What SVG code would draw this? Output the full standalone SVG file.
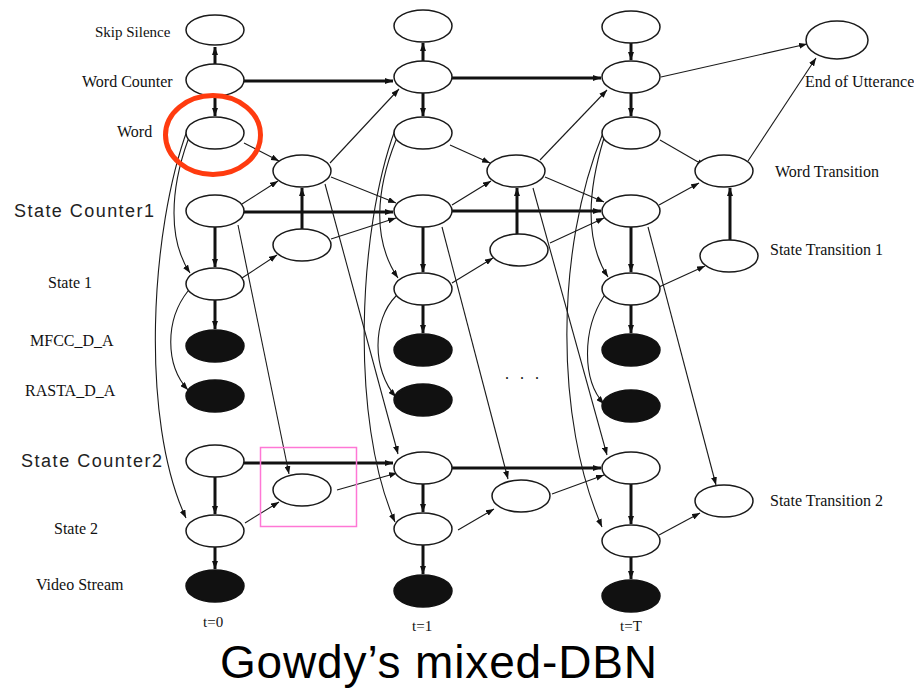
<svg xmlns="http://www.w3.org/2000/svg" width="914" height="688" viewBox="0 0 914 688">
  <style>
    .n { fill: #fff; stroke: #1a1a1a; stroke-width: 1.5; }
    .o { fill: #111; stroke: #111; stroke-width: 1.5; }
    .e { fill: none; stroke: #1a1a1a; stroke-width: 1.1; marker-end: url(#arr); }
    .t { fill: none; stroke: #111; stroke-width: 3; marker-end: url(#arr); }
    .lb { font-family: "Liberation Serif", "Times New Roman", serif; font-size: 16px; fill: #111; }
    .lc { font-family: "Liberation Sans", Arial, sans-serif; font-size: 18px; fill: #222; }
    .title { font-family: "Liberation Sans", Arial, sans-serif; font-size: 46px; fill: #000; }
  </style>
  <defs>
    <marker id="arr" markerUnits="userSpaceOnUse" viewBox="0 0 8 6" refX="8" refY="3" markerWidth="8" markerHeight="6" orient="auto">
      <path d="M0,0 L8,3 L0,6 z" fill="#111"/>
    </marker>
  </defs>
  <rect width="914" height="688" fill="#fff"/>

  <!-- connectors -->
  <g id="connectors">
    <!-- thick intra-slice arcs -->
    <line class="t" x1="215" y1="64" x2="215" y2="47"/>
    <line class="t" x1="423" y1="61" x2="423" y2="43"/>
    <line class="t" x1="631" y1="43" x2="631" y2="60"/>
    <line class="t" x1="215" y1="96" x2="215" y2="116"/>
    <line class="t" x1="423" y1="93" x2="423" y2="116"/>
    <line class="t" x1="631" y1="93" x2="631" y2="116"/>
    <line class="t" x1="215" y1="227" x2="215" y2="267"/>
    <line class="t" x1="215" y1="300" x2="215" y2="329"/>
    <line class="t" x1="215" y1="477" x2="215" y2="514"/>
    <line class="t" x1="215" y1="547" x2="215" y2="569"/>
    <line class="t" x1="423" y1="227" x2="423" y2="272"/>
    <line class="t" x1="423" y1="305" x2="423" y2="333"/>
    <line class="t" x1="423" y1="484" x2="423" y2="512"/>
    <line class="t" x1="423" y1="545" x2="423" y2="574"/>
    <line class="t" x1="631" y1="227" x2="631" y2="272"/>
    <line class="t" x1="631" y1="305" x2="631" y2="333"/>
    <line class="t" x1="631" y1="484" x2="631" y2="524"/>
    <line class="t" x1="631" y1="557" x2="631" y2="579"/>
    <line class="t" x1="302" y1="229" x2="302" y2="188"/>
    <line class="t" x1="517" y1="234" x2="517" y2="188"/>
    <line class="t" x1="730" y1="240" x2="730" y2="188"/>
    <!-- thick inter-slice arcs -->
    <line class="t" x1="244" y1="81" x2="393" y2="81"/>
    <line class="t" x1="452" y1="78" x2="601" y2="78"/>
    <line class="t" x1="244" y1="212" x2="393" y2="212"/>
    <line class="t" x1="452" y1="211" x2="601" y2="211"/>
    <line class="t" x1="244" y1="463" x2="393" y2="463"/>
    <line class="t" x1="452" y1="468" x2="601" y2="468"/>

    <!-- thin arcs, slice t=0 -->
    <line class="e" x1="244" y1="143" x2="279" y2="161"/>
    <line class="e" x1="242" y1="204" x2="278" y2="181"/>
    <line class="e" x1="242" y1="278" x2="277" y2="255"/>
    <line class="e" x1="330" y1="163" x2="399" y2="89"/>
    <line class="e" x1="331" y1="177" x2="396" y2="203"/>
    <line class="e" x1="331" y1="239" x2="396" y2="218"/>
    <line class="e" x1="238" y1="225" x2="289" y2="474"/>
    <line class="e" x1="325" y1="184" x2="398" y2="454"/>
    <line class="e" x1="337" y1="490" x2="397" y2="473"/>
    <line class="e" x1="245" y1="523" x2="279" y2="502"/>
    <path class="e" d="M188,140 C170,190 168,240 190,273"/>
    <path class="e" d="M188,128 C150,230 140,420 186,518"/>
    <path class="e" d="M188,291 C165,320 165,365 188,390"/>

    <!-- thin arcs, slice t=1 -->
    <line class="e" x1="450" y1="145" x2="490" y2="163"/>
    <line class="e" x1="452" y1="205" x2="491" y2="181"/>
    <line class="e" x1="452" y1="283" x2="493" y2="258"/>
    <line class="e" x1="540" y1="160" x2="607" y2="90"/>
    <line class="e" x1="545" y1="177" x2="604" y2="202"/>
    <line class="e" x1="550" y1="243" x2="604" y2="218"/>
    <line class="e" x1="442" y1="227" x2="508" y2="479"/>
    <line class="e" x1="533" y1="188" x2="607" y2="455"/>
    <line class="e" x1="552" y1="494" x2="604" y2="475"/>
    <line class="e" x1="458" y1="530" x2="494" y2="509"/>
    <path class="e" d="M396,140 C376,190 372,240 398,278"/>
    <path class="e" d="M395,130 C358,230 350,420 395,522"/>
    <path class="e" d="M396,296 C372,320 372,370 396,397"/>

    <!-- thin arcs, slice t=T -->
    <line class="e" x1="660" y1="140" x2="705" y2="166"/>
    <line class="e" x1="659" y1="205" x2="699" y2="183"/>
    <line class="e" x1="659" y1="287" x2="705" y2="266"/>
    <line class="e" x1="648" y1="227" x2="716" y2="485"/>
    <line class="e" x1="659" y1="535" x2="700" y2="513"/>
    <line class="e" x1="661" y1="77" x2="807" y2="44"/>
    <line class="e" x1="748" y1="161" x2="816" y2="58"/>
    <path class="e" d="M604,138 C588,190 584,240 608,277"/>
    <path class="e" d="M603,133 C555,250 555,420 602,527"/>
    <path class="e" d="M604,296 C582,330 582,380 604,404"/>
  </g>

  <!-- slice t=0 -->
  <g id="skip0"><ellipse class="n" cx="215" cy="30" rx="29" ry="15"/></g>
  <g id="wordcounter0"><ellipse class="n" cx="215" cy="80" rx="29" ry="16"/></g>
  <g id="word0"><ellipse class="n" cx="215" cy="133" rx="29" ry="16"/></g>
  <g id="statecounter1_0"><ellipse class="n" cx="215" cy="211" rx="29" ry="16"/></g>
  <g id="state1_0"><ellipse class="n" cx="215" cy="284" rx="29" ry="16"/></g>
  <g id="mfcc0"><ellipse class="o" cx="215" cy="346" rx="29" ry="16"/></g>
  <g id="rasta0"><ellipse class="o" cx="215" cy="396" rx="29" ry="16"/></g>
  <g id="statecounter2_0"><ellipse class="n" cx="215" cy="461" rx="29" ry="16"/></g>
  <g id="state2_0"><ellipse class="n" cx="215" cy="531" rx="29" ry="16"/></g>
  <g id="video0"><ellipse class="o" cx="215" cy="586" rx="29" ry="16"/></g>
  <g id="wordtrans0"><ellipse class="n" cx="302" cy="171" rx="29" ry="16"/></g>
  <g id="statetrans1_0"><ellipse class="n" cx="302" cy="245" rx="29" ry="16"/></g>
  <g id="statetrans2_0"><ellipse class="n" cx="302" cy="490" rx="29" ry="16"/></g>

  <!-- slice t=1 -->
  <g id="skip1"><ellipse class="n" cx="423" cy="26" rx="29" ry="16"/></g>
  <g id="wordcounter1"><ellipse class="n" cx="423" cy="77" rx="29" ry="16"/></g>
  <g id="word1"><ellipse class="n" cx="423" cy="133" rx="29" ry="16"/></g>
  <g id="statecounter1_1"><ellipse class="n" cx="423" cy="211" rx="29" ry="16"/></g>
  <g id="state1_1"><ellipse class="n" cx="423" cy="289" rx="29" ry="16"/></g>
  <g id="mfcc1"><ellipse class="o" cx="423" cy="350" rx="29" ry="16"/></g>
  <g id="rasta1"><ellipse class="o" cx="423" cy="400" rx="29" ry="16"/></g>
  <g id="statecounter2_1"><ellipse class="n" cx="423" cy="468" rx="29" ry="16"/></g>
  <g id="state2_1"><ellipse class="n" cx="423" cy="529" rx="29" ry="16"/></g>
  <g id="video1"><ellipse class="o" cx="423" cy="591" rx="29" ry="16"/></g>
  <g id="wordtrans1"><ellipse class="n" cx="516" cy="171" rx="29" ry="16"/></g>
  <g id="statetrans1_1"><ellipse class="n" cx="519" cy="250" rx="29" ry="16"/></g>
  <g id="statetrans2_1"><ellipse class="n" cx="521" cy="496" rx="29" ry="16"/></g>

  <!-- slice t=T -->
  <g id="skipT"><ellipse class="n" cx="631" cy="27" rx="29" ry="16"/></g>
  <g id="wordcounterT"><ellipse class="n" cx="631" cy="77" rx="29" ry="16"/></g>
  <g id="wordT"><ellipse class="n" cx="631" cy="133" rx="29" ry="16"/></g>
  <g id="statecounter1_T"><ellipse class="n" cx="631" cy="211" rx="29" ry="16"/></g>
  <g id="state1_T"><ellipse class="n" cx="631" cy="289" rx="29" ry="16"/></g>
  <g id="mfccT"><ellipse class="o" cx="631" cy="350" rx="29" ry="16"/></g>
  <g id="rastaT"><ellipse class="o" cx="631" cy="406" rx="29" ry="16"/></g>
  <g id="statecounter2_T"><ellipse class="n" cx="631" cy="468" rx="29" ry="16"/></g>
  <g id="state2_T"><ellipse class="n" cx="631" cy="541" rx="29" ry="16"/></g>
  <g id="videoT"><ellipse class="o" cx="631" cy="596" rx="29" ry="16"/></g>
  <g id="wordtransT"><ellipse class="n" cx="724" cy="171" rx="29" ry="16"/></g>
  <g id="statetrans1_T"><ellipse class="n" cx="729" cy="256" rx="29" ry="16"/></g>
  <g id="statetrans2_T"><ellipse class="n" cx="724" cy="501" rx="29" ry="16"/></g>
  <g id="endofutterance"><ellipse class="n" cx="837" cy="40" rx="31" ry="19"/></g>

  <!-- row labels -->
  <g id="labels">
    <text class="lb" x="95" y="37" style="font-size:15px">Skip Silence</text>
    <text class="lb" x="82" y="87">Word Counter</text>
    <text class="lb" x="117" y="137">Word</text>
    <text class="lc" x="14" y="217" textLength="140" lengthAdjust="spacing">State Counter1</text>
    <text class="lb" x="48" y="288">State 1</text>
    <text class="lb" x="30" y="346">MFCC_D_A</text>
    <text class="lb" x="25" y="396">RASTA_D_A</text>
    <text class="lc" x="21" y="467" textLength="141" lengthAdjust="spacing">State Counter2</text>
    <text class="lb" x="54" y="534">State 2</text>
    <text class="lb" x="36" y="590">Video Stream</text>
    <text class="lb" x="203" y="627" style="font-size:15px">t=0</text>
    <text class="lb" x="412" y="631" style="font-size:15px">t=1</text>
    <text class="lb" x="620" y="631" style="font-size:15px">t=T</text>
    <text class="lb" x="805" y="87">End of Utterance</text>
    <text class="lb" x="775" y="177">Word Transition</text>
    <text class="lb" x="770" y="255">State Transition 1</text>
    <text class="lb" x="770" y="506">State Transition 2</text>
    <text class="lb" x="505" y="379" textLength="34" lengthAdjust="spacing">. . .</text>
  </g>

  <!-- highlights -->
  <ellipse cx="213" cy="135" rx="47.5" ry="39.5" fill="none" stroke="#ff3b0f" stroke-width="5"/>
  <rect x="260.5" y="447.5" width="96" height="79" fill="none" stroke="#ff77d5" stroke-width="1.5"/>

  <text class="title" x="220" y="678" textLength="437" lengthAdjust="spacing">Gowdy’s mixed-DBN</text>
</svg>
